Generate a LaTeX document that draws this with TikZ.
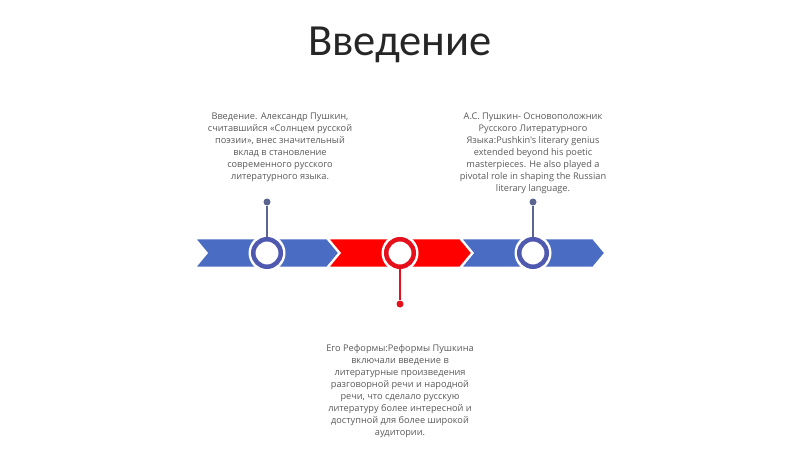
\documentclass[tikz,border=0pt]{standalone}
\usepackage{fontspec}
\setmainfont{Carlito}
\newfontfamily\descfont{Open Sans}
\definecolor{chevblue}{HTML}{4A6CC2}
\definecolor{ringblue}{HTML}{5059B0}
\definecolor{pinblue}{HTML}{5A6590}
\definecolor{chevred}{HTML}{FF0000}
\definecolor{ringred}{HTML}{E5101C}
\definecolor{txt}{HTML}{595959}
\definecolor{ttl}{HTML}{262626}
\tikzset{
  chev/.style={line width=1.6pt, draw=white, line join=miter},
  ringnode/.style={circle, draw=#1, line width=4.5pt, fill=white, minimum size=27.5pt, inner sep=0pt},
  halo/.style={circle, fill=white, minimum size=37pt, inner sep=0pt},
  pindot/.style={circle, fill=#1, minimum size=7pt, inner sep=0pt},
  pinline/.style={draw=#1, line width=1.3pt},
  desc/.style={text=txt, font=\descfont\fontsize{9.2}{12}\selectfont, align=center, inner sep=0pt},
}
\newcommand{\chevron}[2]{%
  \path[chev, fill=#2] (#1,238.5) -- ++(132,0) -- ++(12,14.5) -- ++(-12,14.5) -- ++(-132,0) -- ++(12,-14.5) -- cycle;}
\begin{document}
\begin{tikzpicture}[x=1pt,y=-1pt]
\useasboundingbox (0,0) rectangle (800,449);
\node[text=ttl, font=\fontsize{44.5}{50}\selectfont, inner sep=0pt] (title) at (400,45) {Введение};
% chevrons
\chevron{195}{chevblue}
\chevron{328}{chevred}
\chevron{461}{chevblue}
% halos and rings
\node[halo] (h1) at (267,253) {};
\node[halo] (h2) at (400,253) {};
\node[halo] (h3) at (533,253) {};
\node[ringnode=ringblue] (c1) at (267,253) {};
\node[ringnode=ringred] (c2) at (400,253) {};
\node[ringnode=ringblue] (c3) at (533,253) {};
% pins
\node[pindot=pinblue] (p1) at (267,202) {};
\node[pindot=pinblue] (p3) at (533,202) {};
\node[pindot=ringred] (p2) at (400,304) {};
\draw[pinline=pinblue] (p1) -- (c1.north);
\draw[pinline=pinblue] (p3) -- (c3.north);
\draw[pinline=ringred] (c2.south) -- (p2);
% texts
\node[desc, anchor=north] (t1) at (280,112.5) {Введение. Александр Пушкин,\\считавшийся «Солнцем русской\\поэзии», внес значительный\\вклад в становление\\современного русского\\литературного языка.};
\node[desc, anchor=north] (t3) at (533,113) {А.С. Пушкин- Основоположник\\Русского Литературного\\Языка:Pushkin's literary genius\\extended beyond his poetic\\masterpieces. He also played a\\pivotal role in shaping the Russian\\literary language.};
\node[desc, anchor=north] (t2) at (400,344) {Его Реформы:Реформы Пушкина\\включали введение в\\литературные произведения\\разговорной речи и народной\\речи, что сделало русскую\\литературу более интересной и\\доступной для более широкой\\аудитории.};
\end{tikzpicture}
\end{document}
